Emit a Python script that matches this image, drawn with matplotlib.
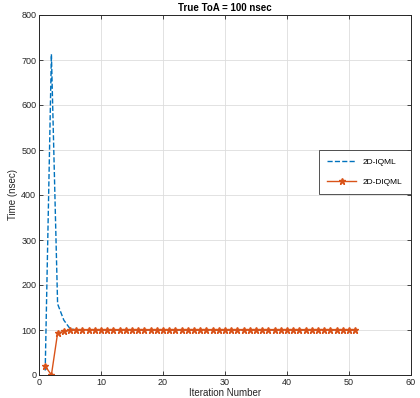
import matplotlib
matplotlib.use("Agg")
import matplotlib.pyplot as plt
import numpy as np

iters = list(range(1, 52))
iqml = [10, 713, 158, 122, 103] + [100] * 46
diqml = [20, 0, 93, 97, 99] + [100] * 46

plt.rcParams['font.family'] = ['Liberation Sans', 'DejaVu Sans']
fig = plt.figure(figsize=(4.2, 3.98), dpi=100)
ax = fig.add_axes([39/420, 1-375/398, (411-39)/420, (375-15)/398])
ax.plot(iters, iqml, '--', color='#0072BD', lw=1.0, label='2D-IQML')
ax.plot(iters, diqml, '-', color='#D95319', lw=1.0, marker='*', ms=4.5, label='2D-DIQML')
ax.set_xlim(0, 60)
ax.set_ylim(0, 800)
ax.set_xticks(np.arange(0, 61, 10))
ax.set_yticks(np.arange(0, 801, 100))
ax.grid(True, color='#dddddd', lw=0.6)
ax.set_axisbelow(True)
ax.tick_params(direction='in', labelsize=6.5, length=3, width=0.6, colors='#262626', top=True, right=True, pad=2)
for s in ax.spines.values():
    s.set_linewidth(0.7)
    s.set_color('#262626')
ax.set_xlabel('Iteration Number', fontsize=7, labelpad=1, color='#262626')
ax.set_ylabel('Time (nsec)', fontsize=7, labelpad=2, color='#262626')
ax.set_title('True ToA = 100 nsec', fontsize=7, fontweight='bold', pad=3)
leg = ax.legend(loc='upper right', bbox_to_anchor=(1.0, 0.625), borderaxespad=0, fontsize=6, frameon=True,
                fancybox=False, edgecolor='#262626', handlelength=3.5, borderpad=1.0, labelspacing=1.4)
leg.get_frame().set_linewidth(0.7)
fig.savefig('out.png', dpi=100)
